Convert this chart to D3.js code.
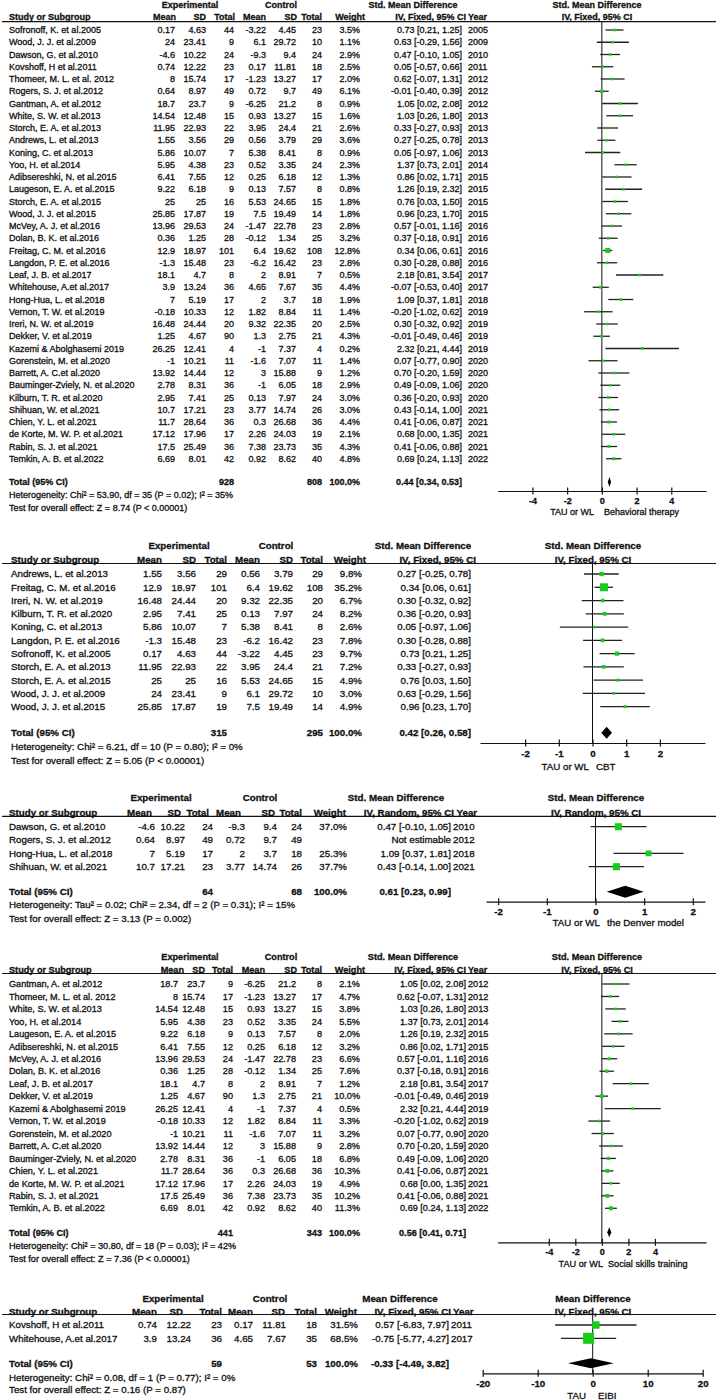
<!DOCTYPE html>
<html><head><meta charset="utf-8">
<script src="https://cdn.jsdelivr.net/npm/d3@7"></script>
<style>
html,body{margin:0;padding:0;background:#fff;}
svg text{font-family:Arial,"Liberation Sans",sans-serif;fill:#111;stroke:#111;stroke-width:0.3px;}
</style></head><body>
<svg id="chart" width="716" height="1400"></svg>
<script>
// Row columns: study, expMean, expSD, expTotal, ctlMean, ctlSD, ctlTotal, weight(%), estimate, lower, upper, year
const behavioralRows = [
["Sofronoff, K. et al.2005",0.17,4.63,44,-3.22,4.45,23,3.5,0.73,0.21,1.25,2005],
["Wood, J. J. et al.2009",24,23.41,9,6.1,29.72,10,1.1,0.63,-0.29,1.56,2009],
["Dawson, G. et al.2010",-4.6,10.22,24,-9.3,9.4,24,2.9,0.47,-0.10,1.05,2010],
["Kovshoff, H et al.2011",0.74,12.22,23,0.17,11.81,18,2.5,0.05,-0.57,0.66,2011],
["Thomeer, M. L. et al. 2012",8,15.74,17,-1.23,13.27,17,2.0,0.62,-0.07,1.31,2012],
["Rogers, S. J. et al.2012",0.64,8.97,49,0.72,9.7,49,6.1,-0.01,-0.40,0.39,2012],
["Gantman, A. et al.2012",18.7,23.7,9,-6.25,21.2,8,0.9,1.05,0.02,2.08,2012],
["White, S. W. et al.2013",14.54,12.48,15,0.93,13.27,15,1.6,1.03,0.26,1.80,2013],
["Storch, E. A. et al.2013",11.95,22.93,22,3.95,24.4,21,2.6,0.33,-0.27,0.93,2013],
["Andrews, L. et al.2013",1.55,3.56,29,0.56,3.79,29,3.6,0.27,-0.25,0.78,2013],
["Koning, C. et al.2013",5.86,10.07,7,5.38,8.41,8,0.9,0.05,-0.97,1.06,2013],
["Yoo, H. et al.2014",5.95,4.38,23,0.52,3.35,24,2.3,1.37,0.73,2.01,2014],
["Adibsereshki, N. et al.2015",6.41,7.55,12,0.25,6.18,12,1.3,0.86,0.02,1.71,2015],
["Laugeson, E. A. et al.2015",9.22,6.18,9,0.13,7.57,8,0.8,1.26,0.19,2.32,2015],
["Storch, E. A. et al.2015",25,25,16,5.53,24.65,15,1.8,0.76,0.03,1.50,2015],
["Wood, J. J. et al.2015",25.85,17.87,19,7.5,19.49,14,1.8,0.96,0.23,1.70,2015],
["McVey, A. J. et al.2016",13.96,29.53,24,-1.47,22.78,23,2.8,0.57,-0.01,1.16,2016],
["Dolan, B. K. et al.2016",0.36,1.25,28,-0.12,1.34,25,3.2,0.37,-0.18,0.91,2016],
["Freitag, C. M. et al.2016",12.9,18.97,101,6.4,19.62,108,12.8,0.34,0.06,0.61,2016],
["Langdon, P. E. et al.2016",-1.3,15.48,23,-6.2,16.42,23,2.8,0.30,-0.28,0.88,2016],
["Leaf, J. B. et al.2017",18.1,4.7,8,2,8.91,7,0.5,2.18,0.81,3.54,2017],
["Whitehouse, A.et al.2017",3.9,13.24,36,4.65,7.67,35,4.4,-0.07,-0.53,0.40,2017],
["Hong-Hua, L. et al.2018",7,5.19,17,2,3.7,18,1.9,1.09,0.37,1.81,2018],
["Vernon, T. W. et al.2019",-0.18,10.33,12,1.82,8.84,11,1.4,-0.20,-1.02,0.62,2019],
["Ireri, N. W. et al.2019",16.48,24.44,20,9.32,22.35,20,2.5,0.30,-0.32,0.92,2019],
["Dekker, V. et al.2019",1.25,4.67,90,1.3,2.75,21,4.3,-0.01,-0.49,0.46,2019],
["Kazemi & Abolghasemi 2019",26.25,12.41,4,-1,7.37,4,0.2,2.32,0.21,4.44,2019],
["Gorenstein, M. et al.2020",-1,10.21,11,-1.6,7.07,11,1.4,0.07,-0.77,0.90,2020],
["Barrett, A. C.et al.2020",13.92,14.44,12,3,15.88,9,1.2,0.70,-0.20,1.59,2020],
["Bauminger-Zviely, N. et al.2020",2.78,8.31,36,-1,6.05,18,2.9,0.49,-0.09,1.06,2020],
["Kilburn, T. R. et al.2020",2.95,7.41,25,0.13,7.97,24,3.0,0.36,-0.20,0.93,2020],
["Shihuan, W. et al.2021",10.7,17.21,23,3.77,14.74,26,3.0,0.43,-0.14,1.00,2021],
["Chien, Y. L. et al.2021",11.7,28.64,36,0.3,26.68,36,4.4,0.41,-0.06,0.87,2021],
["de Korte, M. W. P. et al.2021",17.12,17.96,17,2.26,24.03,19,2.1,0.68,0.00,1.35,2021],
["Rabin, S. J. et al.2021",17.5,25.49,36,7.38,23.73,35,4.3,0.41,-0.06,0.88,2021],
["Temkin, A. B. et al.2022",6.69,8.01,42,0.92,8.62,40,4.8,0.69,0.24,1.13,2022]
];
const behavioralTotal = [928, 808, 100.0, 0.44, 0.34, 0.53];
const behavioralStats = ["Heterogeneity: Chi\u00B2 = 53.90, df = 35 (P = 0.02); I\u00B2 = 35%", "Test for overall effect: Z = 8.74 (P < 0.00001)"];
const behavioralTicks = [-4, -2, 0, 2, 4];
const behavioralSides = ["TAU or WL", "Behavioral therapy"];

const cbtRows = [
["Andrews, L. et al.2013",1.55,3.56,29,0.56,3.79,29,9.8,0.27,-0.25,0.78,null],
["Freitag, C. M. et al.2016",12.9,18.97,101,6.4,19.62,108,35.2,0.34,0.06,0.61,null],
["Ireri, N. W. et al.2019",16.48,24.44,20,9.32,22.35,20,6.7,0.30,-0.32,0.92,null],
["Kilburn, T. R. et al.2020",2.95,7.41,25,0.13,7.97,24,8.2,0.36,-0.20,0.93,null],
["Koning, C. et al.2013",5.86,10.07,7,5.38,8.41,8,2.6,0.05,-0.97,1.06,null],
["Langdon, P. E. et al.2016",-1.3,15.48,23,-6.2,16.42,23,7.8,0.30,-0.28,0.88,null],
["Sofronoff, K. et al.2005",0.17,4.63,44,-3.22,4.45,23,9.7,0.73,0.21,1.25,null],
["Storch, E. A. et al.2013",11.95,22.93,22,3.95,24.4,21,7.2,0.33,-0.27,0.93,null],
["Storch, E. A. et al.2015",25,25,16,5.53,24.65,15,4.9,0.76,0.03,1.50,null],
["Wood, J. J. et al.2009",24,23.41,9,6.1,29.72,10,3.0,0.63,-0.29,1.56,null],
["Wood, J. J. et al.2015",25.85,17.87,19,7.5,19.49,14,4.9,0.96,0.23,1.70,null]
];
const cbtTotal = [315, 295, 100.0, 0.42, 0.26, 0.58];
const cbtStats = ["Heterogeneity: Chi\u00B2 = 6.21, df = 10 (P = 0.80); I\u00B2 = 0%", "Test for overall effect: Z = 5.05 (P < 0.00001)"];
const cbtTicks = [-2, -1, 0, 1, 2];
const cbtSides = ["TAU or WL", "CBT"];

const denverRows = [
["Dawson, G. et al.2010",-4.6,10.22,24,-9.3,9.4,24,37.0,0.47,-0.10,1.05,2010],
["Rogers, S. J. et al.2012",0.64,8.97,49,0.72,9.7,49,null,null,null,null,2012],
["Hong-Hua, L. et al.2018",7,5.19,17,2,3.7,18,25.3,1.09,0.37,1.81,2018],
["Shihuan, W. et al.2021",10.7,17.21,23,3.77,14.74,26,37.7,0.43,-0.14,1.00,2021]
];
const denverTotal = [64, 68, 100.0, 0.61, 0.23, 0.99];
const denverStats = ["Heterogeneity: Tau\u00B2 = 0.02; Chi\u00B2 = 2.34, df = 2 (P = 0.31); I\u00B2 = 15%", "Test for overall effect: Z = 3.13 (P = 0.002)"];
const denverTicks = [-2, -1, 0, 1, 2];
const denverSides = ["TAU or WL", "the Denver model"];

const socialRows = [
["Gantman, A. et al.2012",18.7,23.7,9,-6.25,21.2,8,2.1,1.05,0.02,2.08,2012],
["Thomeer, M. L. et al. 2012",8,15.74,17,-1.23,13.27,17,4.7,0.62,-0.07,1.31,2012],
["White, S. W. et al.2013",14.54,12.48,15,0.93,13.27,15,3.8,1.03,0.26,1.80,2013],
["Yoo, H. et al.2014",5.95,4.38,23,0.52,3.35,24,5.5,1.37,0.73,2.01,2014],
["Laugeson, E. A. et al.2015",9.22,6.18,9,0.13,7.57,8,2.0,1.26,0.19,2.32,2015],
["Adibsereshki, N. et al.2015",6.41,7.55,12,0.25,6.18,12,3.2,0.86,0.02,1.71,2015],
["McVey, A. J. et al.2016",13.96,29.53,24,-1.47,22.78,23,6.6,0.57,-0.01,1.16,2016],
["Dolan, B. K. et al.2016",0.36,1.25,28,-0.12,1.34,25,7.6,0.37,-0.18,0.91,2016],
["Leaf, J. B. et al.2017",18.1,4.7,8,2,8.91,7,1.2,2.18,0.81,3.54,2017],
["Dekker, V. et al.2019",1.25,4.67,90,1.3,2.75,21,10.0,-0.01,-0.49,0.46,2019],
["Kazemi & Abolghasemi 2019",26.25,12.41,4,-1,7.37,4,0.5,2.32,0.21,4.44,2019],
["Vernon, T. W. et al.2019",-0.18,10.33,12,1.82,8.84,11,3.3,-0.20,-1.02,0.62,2019],
["Gorenstein, M. et al.2020",-1,10.21,11,-1.6,7.07,11,3.2,0.07,-0.77,0.90,2020],
["Barrett, A. C.et al.2020",13.92,14.44,12,3,15.88,9,2.8,0.70,-0.20,1.59,2020],
["Bauminger-Zviely, N. et al.2020",2.78,8.31,36,-1,6.05,18,6.8,0.49,-0.09,1.06,2020],
["Chien, Y. L. et al.2021",11.7,28.64,36,0.3,26.68,36,10.3,0.41,-0.06,0.87,2021],
["de Korte, M. W. P. et al.2021",17.12,17.96,17,2.26,24.03,19,4.9,0.68,0.00,1.35,2021],
["Rabin, S. J. et al.2021",17.5,25.49,36,7.38,23.73,35,10.2,0.41,-0.06,0.88,2021],
["Temkin, A. B. et al.2022",6.69,8.01,42,0.92,8.62,40,11.3,0.69,0.24,1.13,2022]
];
const socialTotal = [441, 343, 100.0, 0.56, 0.41, 0.71];
const socialStats = ["Heterogeneity: Chi\u00B2 = 30.80, df = 18 (P = 0.03); I\u00B2 = 42%", "Test for overall effect: Z = 7.36 (P < 0.00001)"];
const socialTicks = [-4, -2, 0, 2, 4];
const socialSides = ["TAU or WL", "Social skills training"];

const eibiRows = [
["Kovshoff, H et al.2011",0.74,12.22,23,0.17,11.81,18,31.5,0.57,-6.83,7.97,2011],
["Whitehouse, A.et al.2017",3.9,13.24,36,4.65,7.67,35,68.5,-0.75,-5.77,4.27,2017]
];
const eibiTotal = [59, 53, 100.0, -0.33, -4.49, 3.82];
const eibiStats = ["Heterogeneity: Chi\u00B2 = 0.08, df = 1 (P = 0.77); I\u00B2 = 0%", "Test for overall effect: Z = 0.16 (P = 0.87)"];
const eibiTicks = [-20, -10, 0, 10, 20];
const eibiSides = ["TAU", "EIBI"];

// ---------- layout (positions / styles only) ----------
const panels = [
 {rows: behavioralRows, total: behavioralTotal, stats: behavioralStats, ticks: behavioralTicks, sides: behavioralSides,
  eff: "Std. Mean Difference", method: "IV, Fixed, 95% CI", fs: 9,
  y: {h1: 5, h2: 17, ul: 21.7, row0: 30, step: 12.25, total: 482, het: 495, test: 508, axis: 491, tick: 500.5, lab: 512, dia: 10},
  x: {study: 9, vals: [175,206,234,266,296,322,360], hdr: [176,206,235,266,297,322,365], ci: 462, year: 468, ciHdr: 466, yearHdr: 468,
      exp: 190, ctl: 281, eff: 413, plot: 597, labL: 594, labR: 604},
  dom: [-6, 6], rng: [497.7, 706], boxK: 1.4},
 {rows: cbtRows, total: cbtTotal, stats: cbtStats, ticks: cbtTicks, sides: cbtSides,
  eff: "Std. Mean Difference", method: "IV, Fixed, 95% CI", fs: 9.75, noYear: true,
  y: {h1: 546, h2: 559.5, ul: 563.5, row0: 574, step: 13.27, total: 732.7, het: 746.7, test: 761, axis: 743, tick: 753.5, lab: 766.7, dia: 12},
  x: {study: 11, vals: [162,196,227,260,293,323,362], hdr: [162,196,227,260,293,323,366], ci: 471, ciHdr: 476,
      exp: 179, ctl: 276, eff: 423, plot: 593, labL: 589, labR: 596},
  dom: [-3.34, 3.34], rng: [480, 705], boxK: 1.35},
 {rows: denverRows, total: denverTotal, stats: denverStats, ticks: denverTicks, sides: denverSides,
  eff: "Std. Mean Difference", method: "IV, Random, 95% CI", fs: 9.75,
  y: {h1: 798, h2: 812.5, ul: 816.3, row0: 826.7, step: 13.33, total: 891.7, het: 905, test: 919, axis: 901.7, tick: 912, lab: 923, dia: 12},
  x: {study: 9, vals: [155,185,213,245,277,302,347], hdr: [152,181,209,241,275,302,346], ci: 451, year: 453, ciHdr: 454, yearHdr: 456.5,
      exp: 161, ctl: 260, eff: 396, plot: 596, labL: 600, labR: 607},
  dom: [-2.25, 2.25], rng: [486, 705], boxK: 1.15},
 {rows: socialRows, total: socialTotal, stats: socialStats, ticks: socialTicks, sides: socialSides,
  eff: "Std. Mean Difference", method: "IV, Fixed, 95% CI", fs: 9.15,
  y: {h1: 956.7, h2: 970.2, ul: 973.5, row0: 984, step: 12.46, total: 1232.3, het: 1246, test: 1259, axis: 1242.3, tick: 1252, lab: 1263.3, dia: 10},
  x: {study: 9, vals: [178,205,233,265,296,322,360], hdr: [184,205,233,265,297,322,365], ci: 466, year: 468, ciHdr: 466, yearHdr: 468,
      exp: 190, ctl: 281, eff: 413, plot: 597, labL: 603, labR: 608},
  dom: [-7.85, 7.85], rng: [497.7, 706], boxK: 1.2},
 {rows: eibiRows, total: eibiTotal, stats: eibiStats, ticks: eibiTicks, sides: eibiSides,
  eff: "Mean Difference", method: "IV, Fixed, 95% CI", fs: 9.75,
  y: {h1: 1298.3, h2: 1311.2, ul: 1314.5, row0: 1325, step: 13.3, total: 1363.3, het: 1377.3, test: 1390, axis: 1373.3, tick: 1383.5, lab: 1396, dia: 10},
  x: {study: 9, vals: [157,191,222,253,286,317,358], hdr: [157,183,222,253,285,317,357], ci: 449, year: 451, ciHdr: 451, yearHdr: 453,
      exp: 173, ctl: 270, eff: 400, plot: 593, labL: 586, labR: 598},
  dom: [-20, 20], rng: [482.7, 702.7], boxK: 1.33}
];

const svg = d3.select("#chart");
const green = "#19cc19";

function txt(g, x, y, s, anchor, bold, fs) {
  return g.append("text").attr("x", x).attr("y", y).attr("dy", "0.35em")
    .attr("text-anchor", anchor).attr("font-size", fs)
    .attr("font-weight", bold ? "bold" : "normal").text(s);
}

panels.forEach(p => {
  const g = svg.append("g");
  const fs = p.fs, X = p.x, Y = p.y;
  const x = d3.scaleLinear().domain(p.dom).range(p.rng);
  const yRow = d3.scaleLinear().domain([0, 1]).range([Y.row0, Y.row0 + Y.step]);

  // header row 1
  txt(g, X.exp, Y.h1, "Experimental", "middle", true, fs);
  txt(g, X.ctl, Y.h1, "Control", "middle", true, fs);
  txt(g, X.eff, Y.h1, p.eff, "middle", true, fs);
  txt(g, X.plot, Y.h1, p.eff, "middle", true, fs);
  // header row 2
  txt(g, X.study, Y.h2, "Study or Subgroup", "start", true, fs);
  const hnames = ["Mean", "SD", "Total", "Mean", "SD", "Total", "Weight"];
  hnames.forEach((h, i) => txt(g, X.hdr[i], Y.h2, h, "end", true, fs));
  txt(g, X.ciHdr, Y.h2, p.method, "end", true, fs);
  if (!p.noYear) txt(g, X.yearHdr, Y.h2, "Year", "start", true, fs);
  txt(g, X.plot, Y.h2, p.method, "middle", true, fs);
  // underline
  g.append("line").attr("x1", 2).attr("x2", 716).attr("y1", Y.ul).attr("y2", Y.ul)
    .attr("stroke", "#111").attr("stroke-width", 1.2);

  // zero line
  g.append("line").attr("x1", x(0)).attr("x2", x(0)).attr("y1", Y.ul).attr("y2", Y.axis)
    .attr("stroke", "#111").attr("stroke-width", 1);

  // study rows
  p.rows.forEach((r, i) => {
    const yy = yRow(i);
    txt(g, X.study, yy, r[0], "start", false, fs);
    for (let k = 1; k <= 6; k++) txt(g, X.vals[k - 1], yy, String(r[k]), "end", false, fs);
    if (r[7] !== null) txt(g, X.vals[6], yy, r[7].toFixed(1) + "%", "end", false, fs);
    const ciText = r[8] === null ? "Not estimable" :
      `${r[8].toFixed(2)} [${r[9].toFixed(2)}, ${r[10].toFixed(2)}]`;
    txt(g, X.ci, yy, ciText, "end", false, fs);
    if (!p.noYear && r[11] !== null) txt(g, X.year, yy, String(r[11]), "start", false, fs);
    if (r[8] !== null) {
      g.append("line").attr("x1", x(r[9])).attr("x2", x(r[10])).attr("y1", yy).attr("y2", yy)
        .attr("stroke", "#222").attr("stroke-width", 1.3);
      const s = Math.max(2.6, p.boxK * Math.sqrt(r[7]));
      g.append("rect").attr("x", x(r[8]) - s / 2).attr("y", yy - s / 2)
        .attr("width", s).attr("height", s).attr("fill", green);
    }
  });

  // total row
  const t = p.total;
  txt(g, X.study, Y.total, "Total (95% CI)", "start", true, fs);
  txt(g, X.vals[2], Y.total, String(t[0]), "end", true, fs);
  txt(g, X.vals[5], Y.total, String(t[1]), "end", true, fs);
  txt(g, X.vals[6], Y.total, t[2].toFixed(1) + "%", "end", true, fs);
  txt(g, X.ci, Y.total, `${t[3].toFixed(2)} [${t[4].toFixed(2)}, ${t[5].toFixed(2)}]`, "end", true, fs);
  const h = Y.dia / 2;
  g.append("path")
    .attr("d", `M${x(t[4])},${Y.total}L${x(t[3])},${Y.total - h}L${x(t[5])},${Y.total}L${x(t[3])},${Y.total + h}Z`)
    .attr("fill", "#000");
  txt(g, X.study, Y.het, p.stats[0], "start", false, fs);
  txt(g, X.study, Y.test, p.stats[1], "start", false, fs);

  // axis
  const axis = d3.axisBottom(x).tickValues(p.ticks).tickSize(3).tickSizeOuter(0).tickFormat(d => String(d));
  const ag = g.append("g").attr("transform", `translate(0,${Y.axis})`).call(axis);
  ag.attr("font-family", null).attr("font-size", null);
  ag.select(".domain").attr("stroke", "#111").attr("stroke-width", 1.2);
  ag.selectAll(".tick line").attr("y1", -3.5).attr("y2", 3.5).attr("stroke", "#111").attr("stroke-width", 1.2);
  ag.selectAll(".tick text").attr("y", Y.tick - Y.axis).attr("dy", "0.35em")
    .attr("font-size", fs).attr("font-weight", "bold").attr("fill", "#111");
  txt(g, X.labL, Y.lab, p.sides[0], "end", false, fs);
  txt(g, X.labR, Y.lab, p.sides[1], "start", false, fs);
});
</script>
</body></html>
